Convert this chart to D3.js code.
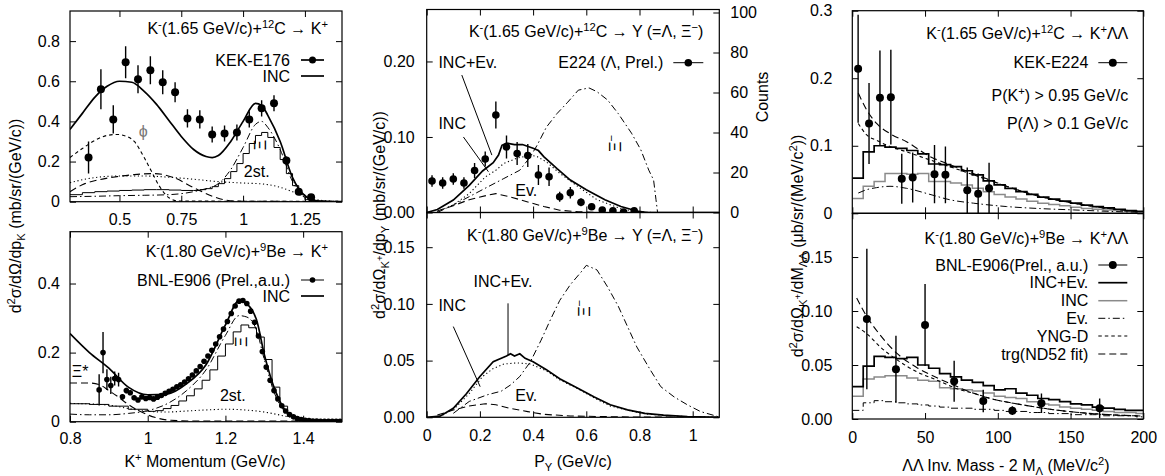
<!DOCTYPE html>
<html>
<head>
<meta charset="utf-8">
<script src="https://cdn.jsdelivr.net/npm/d3@7"></script>
<style>
  body { margin: 0; background: #fff; }
  text { font-family: "Liberation Sans", Arial, Helvetica, sans-serif; fill: #000; }
</style>
</head>
<body>
<div class="canvas"></div>
<script>
// ---------- data ----------

// top-left: K-(1.65)+12C -> K+ , KEK-E176  [p, value, err]
const e176 = [[0.375,0.22,0.08],[0.425,0.56,0.1],[0.475,0.41,0.07],[0.525,0.695,0.08],[0.575,0.61,0.07],
  [0.625,0.655,0.07],[0.675,0.595,0.06],[0.725,0.545,0.05],[0.775,0.415,0.045],[0.825,0.41,0.045],
  [0.875,0.335,0.04],[0.925,0.34,0.04],[0.975,0.345,0.04],[1.025,0.41,0.04],[1.075,0.465,0.04],
  [1.125,0.49,0.04],[1.175,0.205,0.02],[1.225,0.05,0.012],[1.275,0.022,0.01]];
const tlINC = [[0.30,0.36],[0.35,0.44],[0.40,0.52],[0.45,0.575],[0.50,0.60],[0.55,0.595],[0.60,0.55],[0.65,0.485],
  [0.70,0.405],[0.75,0.325],[0.80,0.26],[0.85,0.225],[0.875,0.22],[0.90,0.23],[0.95,0.30],[1.00,0.40],[1.05,0.49],
  [1.075,0.48],[1.10,0.43],[1.15,0.30],[1.20,0.12],[1.25,0.03],[1.30,0.004],[1.40,0]];
const tlPhi = [[0.30,0.22],[0.35,0.265],[0.40,0.305],[0.45,0.33],[0.49,0.335],[0.53,0.325],[0.56,0.30],[0.60,0.22],
  [0.63,0.15],[0.66,0.08],[0.70,0.02],[0.74,0.003],[1.40,0.002]];
const tlXiStar = [[0.30,0.05],[0.36,0.09],[0.42,0.11],[0.49,0.125],[0.56,0.135],[0.64,0.14],[0.72,0.12],[0.80,0.07],
  [0.88,0.025],[0.93,0.008],[1.0,0.002],[1.4,0.001]];
const tl2st = [[0.30,0.095],[0.40,0.12],[0.50,0.128],[0.60,0.128],[0.70,0.122],[0.80,0.112],[0.90,0.10],[1.00,0.093],
  [1.08,0.088],[1.14,0.075],[1.20,0.05],[1.26,0.02],[1.32,0.006],[1.40,0.001]];
const tlXiAll = [[0.30,0.025],[0.40,0.027],[0.50,0.03],[0.60,0.032],[0.70,0.035],[0.75,0.04],[0.80,0.05],[0.85,0.065],
  [0.90,0.09],[0.95,0.16],[1.00,0.27],[1.05,0.385],[1.075,0.40],[1.10,0.37],[1.15,0.26],[1.20,0.10],[1.25,0.02],[1.30,0.002],[1.40,0]];
const tlXiHist = [[0.30,0.035],[0.35,0.045],[0.40,0.05],[0.45,0.053],[0.50,0.056],[0.55,0.058],[0.60,0.06],[0.65,0.06],
  [0.70,0.058],[0.75,0.056],[0.80,0.056],[0.825,0.06],[0.85,0.065],[0.875,0.075],[0.90,0.09],[0.925,0.115],[0.95,0.15],
  [0.975,0.19],[1.00,0.24],[1.025,0.29],[1.05,0.33],[1.075,0.345],[1.10,0.32],[1.125,0.27],[1.15,0.21],[1.175,0.14],
  [1.20,0.08],[1.225,0.035],[1.25,0.01],[1.275,0.002],[1.30,0]];

// bottom-left: K-(1.80)+9Be -> K+ , BNL-E906  [p, value, err]
const e906k = [[0.875,0.092,0.045],[0.885,0.20,0.06],[0.895,0.122,0.03],[0.905,0.105,0.025],[0.915,0.125,0.02],
  [0.925,0.122,0.02],[0.935,0.072,0.008],[0.945,0.09,0.008],[0.955,0.084,0.007],[0.965,0.069,0.006],[0.975,0.063,0.006],
  [0.985,0.072,0.006],[0.995,0.067,0.005],[1.005,0.07,0.005],[1.015,0.066,0.005],[1.025,0.071,0.005],[1.035,0.076,0.005],
  [1.045,0.082,0.005],[1.055,0.088,0.005],[1.065,0.094,0.005],[1.075,0.101,0.005],[1.085,0.107,0.005],[1.095,0.115,0.005],
  [1.105,0.124,0.005],[1.115,0.135,0.005],[1.125,0.147,0.005],[1.135,0.16,0.005],[1.145,0.175,0.005],[1.155,0.19,0.005],
  [1.165,0.207,0.005],[1.175,0.225,0.005],[1.185,0.246,0.005],[1.195,0.268,0.005],[1.205,0.29,0.005],[1.215,0.313,0.005],
  [1.225,0.335,0.005],[1.235,0.349,0.005],[1.245,0.351,0.005],[1.255,0.342,0.005],[1.265,0.32,0.005],[1.275,0.288,0.005],
  [1.285,0.248,0.005],[1.295,0.203,0.005],[1.305,0.158,0.005],[1.315,0.12,0.005],[1.325,0.09,0.004],[1.335,0.066,0.004],
  [1.345,0.046,0.003],[1.355,0.031,0.003],[1.365,0.021,0.002],[1.375,0.014,0.002],[1.385,0.009,0.002],[1.395,0.006,0.001],
  [1.405,0.004,0.001],[1.415,0.003,0.001],[1.425,0.002,0.001],[1.435,0.002,0.001],[1.445,0.001,0.001],[1.455,0.001,0.001],
  [1.465,0.001,0.001],[1.475,0.001,0.001],[1.485,0.001,0.001],[1.495,0.001,0.001]];
const blINC = [[0.80,0.255],[0.85,0.20],[0.90,0.155],[0.95,0.10],[1.00,0.078],[1.05,0.08],[1.10,0.11],[1.15,0.165],
  [1.20,0.28],[1.235,0.35],[1.25,0.345],[1.28,0.295],[1.30,0.195],[1.33,0.085],[1.36,0.025],[1.40,0.004],[1.45,0],[1.50,0]];
const blXiStar = [[0.80,0.112],[0.85,0.112],[0.88,0.105],[0.90,0.09],[0.92,0.075],[0.95,0.05],[0.98,0.03],[1.02,0.012],
  [1.06,0.004],[1.12,0.002],[1.50,0.002]];
const blXiAll = [[0.80,0.022],[0.85,0.02],[0.90,0.02],[0.95,0.024],[1.00,0.032],[1.05,0.052],[1.10,0.09],[1.15,0.15],
  [1.20,0.25],[1.235,0.307],[1.255,0.303],[1.28,0.265],[1.30,0.18],[1.33,0.072],[1.36,0.022],[1.40,0.003],[1.50,0]];
const bl2st = [[0.80,0.053],[0.90,0.048],[0.95,0.038],[1.00,0.03],[1.05,0.028],[1.10,0.031],[1.15,0.034],[1.20,0.036],
  [1.25,0.034],[1.30,0.028],[1.35,0.017],[1.40,0.006],[1.45,0.001],[1.50,0]];
const blXiHist = [[0.80,0.052],[0.85,0.05],[0.90,0.045],[0.95,0.036],[1.00,0.03],[1.02,0.032],[1.04,0.038],[1.06,0.047],
  [1.08,0.06],[1.10,0.075],[1.12,0.095],[1.14,0.12],[1.16,0.15],[1.18,0.19],[1.20,0.225],[1.22,0.26],[1.24,0.28],
  [1.26,0.272],[1.28,0.245],[1.30,0.18],[1.32,0.10],[1.34,0.045],[1.36,0.015],[1.38,0.004],[1.40,0.001],[1.50,0]];

// top-middle: hyperon momentum, E224 counts (right axis) [p, counts, err]
const e224y = [[0.02,15.75,2.9],[0.06,14.75,2.9],[0.10,16.75,2.9],[0.14,14.75,2.9],[0.18,21,3.7],[0.22,26.75,3.7],
  [0.26,48.75,6.7],[0.30,32.75,5.8],[0.34,29.5,5.8],[0.38,28.5,5.8],[0.42,18.75,5],[0.46,17.9,4.6],[0.50,7.9,2.5],
  [0.54,9.9,2.9],[0.58,5.1,2],[0.62,2.9,1.5],[0.66,1.25,1],[0.70,0.9,1],[0.74,0.25,0.8],[0.78,0.9,1]];
const tmSum = [[0,0],[0.04,0.004],[0.10,0.0165],[0.16,0.036],[0.21,0.055],[0.25,0.066],[0.27,0.076],[0.283,0.089],
  [0.30,0.092],[0.33,0.09],[0.36,0.09],[0.40,0.085],[0.42,0.082],[0.44,0.074],[0.49,0.058],[0.54,0.043],[0.60,0.03],
  [0.67,0.017],[0.73,0.008],[0.79,0.002],[0.83,0],[1.1,0]];
const tmINC = [[0.04,0.001],[0.10,0.01],[0.16,0.025],[0.22,0.047],[0.26,0.056],[0.29,0.065],[0.34,0.072],[0.39,0.076],
  [0.415,0.074],[0.45,0.067],[0.50,0.052],[0.57,0.034],[0.64,0.017],[0.73,0.005],[0.79,0.001],[0.85,0]];
const tmXi = [[0.04,0],[0.10,0.01],[0.16,0.021],[0.23,0.034],[0.29,0.045],[0.35,0.056],[0.39,0.074],[0.415,0.089],
  [0.45,0.113],[0.49,0.131],[0.53,0.146],[0.57,0.162],[0.61,0.165],[0.64,0.16],[0.68,0.149],[0.72,0.131],[0.77,0.105],
  [0.805,0.083],[0.835,0.056],[0.853,0.043],[0.862,0.017],[0.868,0]];
const tmEv = [[0.04,0.002],[0.10,0.009],[0.16,0.017],[0.23,0.023],[0.26,0.025],[0.31,0.021],[0.38,0.014],[0.44,0.008],
  [0.50,0.003],[0.57,0.001],[0.65,0],[1.1,0]];

// bottom-middle
const bmSum = [[0,0],[0.05,0.001],[0.10,0.008],[0.15,0.021],[0.20,0.036],[0.25,0.049],[0.30,0.054],[0.315,0.056],
  [0.33,0.054],[0.35,0.056],[0.37,0.052],[0.40,0.049],[0.45,0.042],[0.50,0.034],[0.57,0.0255],[0.63,0.018],[0.69,0.011],
  [0.755,0.0065],[0.82,0.0035],[0.89,0.002],[0.98,0.0006],[1.1,0]];
const bmINC = [[0.06,0.002],[0.11,0.009],[0.16,0.021],[0.21,0.036],[0.25,0.043],[0.29,0.047],[0.34,0.048],[0.39,0.047],
  [0.45,0.041],[0.50,0.033],[0.57,0.025],[0.63,0.017],[0.69,0.01],[0.76,0.006],[0.82,0.003],[0.90,0.0015],[1.0,0.0004],[1.1,0]];
const bmXi = [[0.10,0.0035],[0.16,0.014],[0.23,0.02],[0.28,0.023],[0.315,0.0285],[0.35,0.036],[0.39,0.049],[0.43,0.068],
  [0.465,0.086],[0.50,0.103],[0.54,0.117],[0.58,0.128],[0.60,0.134],[0.64,0.13],[0.68,0.115],[0.72,0.098],[0.755,0.08],
  [0.79,0.062],[0.84,0.042],[0.88,0.027],[0.93,0.018],[0.98,0.011],[1.03,0.005],[1.09,0.001],[1.1,0]];
const bmEv = [[0.04,0.002],[0.10,0.0065],[0.16,0.010],[0.22,0.012],[0.26,0.011],[0.31,0.008],[0.38,0.005],[0.44,0.0026],
  [0.54,0.0012],[0.67,0.0006],[0.80,0.0002],[1.1,0]];

// right column: LL invariant mass, 7.5 MeV bins (left edges)
const llBins = [0,7.5,15,22.5,30,37.5,45,52.5,60,67.5,75,82.5,90,97.5,105,112.5,120,127.5,135,142.5,150,157.5,165,172.5,180,187.5,195];
const e224ll = [[4,0.214,0.08],[11.5,0.133,0.06],[19,0.171,0.07],[26.5,0.172,0.07],[34,0.051,0.037],[41.5,0.053,0.037],
  [56.5,0.058,0.043],[64,0.057,0.042],[79,0.034,0.034],[86.5,0.029,0.03],[94,0.037,0.038]];
const trSum = [0.052,0.091,0.10,0.098,0.096,0.093,0.088,0.073,0.072,0.069,0.063,0.057,0.048,0.042,0.037,0.032,0.028,
  0.024,0.021,0.018,0.015,0.012,0.010,0.008,0.006,0.004,0.003];
const trINC = [0.022,0.04,0.047,0.059,0.059,0.058,0.059,0.047,0.047,0.045,0.042,0.037,0.032,0.028,0.024,0.021,0.018,
  0.015,0.013,0.011,0.009,0.007,0.006,0.005,0.004,0.003,0.002];
const trEv = [[4.1,0.03],[9.9,0.035],[16.7,0.038],[25.9,0.04],[37.3,0.037],[53.4,0.028],[67.1,0.02],[83.2,0.015],
  [106,0.01],[129,0.007],[152,0.005],[175,0.003],[198,0.0015]];
const trYNG = [[4.1,0.133],[9.9,0.116],[16.7,0.108],[25.9,0.099],[37.3,0.091],[53.4,0.079],[67.1,0.069],[83.2,0.057],
  [106,0.04],[129,0.025],[152,0.015],[175,0.0074],[198,0.0025]];
const trTrg = [[4.1,0.178],[9.9,0.153],[16.7,0.133],[25.9,0.118],[37.3,0.106],[53.4,0.084],[67.1,0.072],[83.2,0.059],
  [106,0.04],[129,0.025],[152,0.015],[175,0.0074],[198,0.0025]];

const e906ll = [[10,0.0926,0.065],[30,0.046,0.031],[50,0.087,0.038],[70,0.035,0.019],[90,0.0167,0.0105],
  [110,0.0077,0.004],[130,0.0145,0.009],[170,0.0099,0.009]];
const brSum = [0.03,0.049,0.058,0.057,0.056,0.057,0.05,0.047,0.042,0.039,0.036,0.034,0.031,0.027,0.028,0.024,0.022,
  0.019,0.018,0.016,0.014,0.013,0.011,0.010,0.009,0.008,0.008];
const brINC = [0.021,0.037,0.039,0.04,0.04,0.038,0.036,0.035,0.029,0.028,0.027,0.026,0.024,0.021,0.020,0.019,0.016,
  0.014,0.013,0.011,0.010,0.009,0.008,0.007,0.006,0.006,0.005];
const brEv = [0.008,0.015,0.017,0.016,0.015,0.014,0.013,0.012,0.011,0.010,0.010,0.009,0.009,0.008,0.007,0.007,0.006,
  0.006,0.005,0.005,0.004,0.004,0.004,0.003,0.003,0.003,0.002];
const brYNG = [[3,0.0855],[9.9,0.079],[19,0.067],[30.5,0.055],[44,0.044],[60,0.035],[72,0.028],[83,0.024],[95,0.019],
  [117.5,0.013],[140,0.0083],[163,0.0052],[198,0.0028]];
const brTrg = [[3,0.112],[9.9,0.095],[19,0.078],[30.5,0.061],[44,0.048],[60,0.037],[72,0.03],[83,0.024],[95,0.019],
  [117.5,0.013],[140,0.0083],[163,0.0052],[198,0.0028]];

// ---------- drawing ----------
const W = 1165, H = 476, FS = 16;
const svg = d3.select('.canvas').append('svg')
  .attr('width', W).attr('height', H).style('display', 'block');
svg.append('rect').attr('width', W).attr('height', H).attr('fill', '#fff');

// tiny markup: ^{..} superscript, _{..} subscript, `{..} small raised after a subscript
function rich(t, str, size) {
  const parts = str.split(/(\^\{[^}]*\}|_\{[^}]*\}|`\{[^}]*\})/).filter(s => s !== '');
  let shift = 0;
  parts.forEach(p => {
    let txt = p, off = 0, fs = size;
    if (p[0] === '^' && p[1] === '{') { txt = p.slice(2, -1); off = -0.38 * size; fs = 0.7 * size; }
    else if (p[0] === '_' && p[1] === '{') { txt = p.slice(2, -1); off = 0.25 * size; fs = 0.7 * size; }
    else if (p[0] === '`' && p[1] === '{') { txt = p.slice(2, -1); off = -0.12 * size; fs = 0.6 * size; }
    const ts = t.append('tspan').attr('font-size', fs).text(txt);
    if (off - shift) ts.attr('dy', off - shift);
    shift = off;
  });
  return t;
}

function label(x, y, str, anchor, size) {
  size = size || FS;
  const t = svg.append('text').attr('x', x).attr('y', y + 0.35 * size)
    .attr('text-anchor', anchor || 'start').attr('font-size', size);
  return rich(t, str, size);
}

function vlabel(cx, cy, str, size) {
  size = size || FS;
  const t = svg.append('text').attr('transform', `translate(${cx},${cy}) rotate(-90)`)
    .attr('y', 0.35 * size).attr('text-anchor', 'middle').attr('font-size', size);
  return rich(t, str, size);
}

function panel(p) {
  const x = d3.scaleLinear().domain(p.xd).range([p.l, p.r]);
  const y = d3.scaleLinear().domain(p.yd).range([p.b, p.t]);
  const id = 'clip-' + p.name;
  svg.append('clipPath').attr('id', id).append('rect')
    .attr('x', p.l).attr('y', p.t).attr('width', p.r - p.l).attr('height', p.b - p.t);
  const plot = svg.append('g').attr('clip-path', `url(#${id})`);
  const axes = svg.append('g');

  const fix = g => {
    g.select('.domain').remove();
    g.attr('font-size', FS).attr('font-family', null);
  };
  axes.append('g').attr('transform', `translate(${p.l},0)`)
    .call(d3.axisLeft(y).tickValues(p.yt).tickFormat(p.yf).tickSizeInner(-6).tickSizeOuter(0).tickPadding(p.yp))
    .call(fix);
  if (!p.noRight) {
    axes.append('g').attr('transform', `translate(${p.r},0)`)
      .call(d3.axisRight(y).tickValues(p.yt).tickFormat('').tickSizeInner(-6).tickSizeOuter(0))
      .call(fix);
  }
  axes.append('g').attr('transform', `translate(0,${p.b})`)
    .call(d3.axisBottom(x).tickValues(p.xt).tickFormat(p.xf || '').tickSizeInner(-6).tickSizeOuter(0).tickPadding(p.xp || 10))
    .call(fix);
  axes.append('g').attr('transform', `translate(0,${p.t})`)
    .call(d3.axisTop(x).tickValues(p.xt).tickFormat('').tickSizeInner(-6).tickSizeOuter(0))
    .call(fix);

  const frame = () => svg.append('rect').attr('x', p.l).attr('y', p.t)
    .attr('width', p.r - p.l).attr('height', p.b - p.t)
    .attr('fill', 'none').attr('stroke', '#000').attr('stroke-width', 1.2);
  return { x, y, plot, frame, p };
}

const STY = {
  solid: { w: 1.7, dash: null, c: '#000' },
  thin: { w: 1.0, dash: null, c: '#000' },
  gray: { w: 1.5, dash: null, c: '#8a8a8a' },
  dot: { w: 1.1, dash: '1.2,2.6', c: '#000' },
  sdash: { w: 1.1, dash: '3.5,3', c: '#000' },
  ldash: { w: 1.1, dash: '7,4', c: '#000' },
  dashdot: { w: 1.0, dash: '7,3,1.5,3', c: '#000' }
};

function curve(P, data, s, cv, ys) {
  const yy = ys || P.y;
  P.plot.append('path').datum(data)
    .attr('d', d3.line().x(d => P.x(d[0])).y(d => yy(d[1])).curve(cv || d3.curveLinear))
    .attr('fill', 'none').attr('stroke', s.c).attr('stroke-width', s.w)
    .attr('stroke-dasharray', s.dash);
}

function stepHist(P, pairs, s, endX) {
  const pts = pairs.slice();
  if (endX !== undefined) pts.push([endX, pairs[pairs.length - 1][1]]);
  curve(P, pts, s, d3.curveStepAfter);
}

function binHist(P, edges, vals, s) {
  const pairs = edges.map((e, i) => [e, vals[i]]);
  stepHist(P, pairs, s, edges[edges.length - 1] + (edges[1] - edges[0]));
}

function points(P, data, r, ys) {
  const yy = ys || P.y;
  const g = P.plot.append('g');
  g.selectAll('line').data(data).join('line')
    .attr('x1', d => P.x(d[0])).attr('x2', d => P.x(d[0]))
    .attr('y1', d => yy(d[1] - d[2])).attr('y2', d => yy(d[1] + d[2]))
    .attr('stroke', '#000').attr('stroke-width', 1.4);
  g.selectAll('circle').data(data).join('circle')
    .attr('cx', d => P.x(d[0])).attr('cy', d => yy(d[1])).attr('r', r).attr('fill', '#000');
}

function sample(x1, x2, y, s, dotR) {
  svg.append('line').attr('x1', x1).attr('x2', x2).attr('y1', y).attr('y2', y)
    .attr('stroke', s.c).attr('stroke-width', s.w).attr('stroke-dasharray', s.dash);
  if (dotR) svg.append('circle').attr('cx', (x1 + x2) / 2).attr('cy', y).attr('r', dotR).attr('fill', '#000');
}

function noteAt(P, vx, vy, str, rotate, color) {
  const px = P.x(vx), py = P.y(vy);
  if (rotate) {
    vlabel(px, py, str);
  } else {
    const t = label(px, py, str, 'middle');
    if (color) t.style('fill', color);
  }
}

function pointer(P, a, b) {
  svg.append('line').attr('x1', P.x(a[0])).attr('y1', P.y(a[1])).attr('x2', P.x(b[0])).attr('y2', P.y(b[1]))
    .attr('stroke', '#000').attr('stroke-width', 1);
}

const fmt1 = d => d === 0 ? '0' : d3.format('.1f')(d);
const fmt2 = d3.format('.2f');
const fmtS = d => String(d);

// ----- top left -----
const TL = panel({ name: 'tl', l: 70, r: 342, t: 11, b: 201.7, xd: [0.3, 1.4], yd: [0, 0.95],
  yt: [0, 0.2, 0.4, 0.6, 0.8], yf: fmt1, yp: 10, xt: [0.5, 0.75, 1, 1.25], xf: fmtS, xp: 12 });
stepHist(TL, tlXiHist, STY.thin);
curve(TL, tlXiAll, STY.dashdot, d3.curveMonotoneX);
curve(TL, tl2st, STY.dot, d3.curveMonotoneX);
curve(TL, tlXiStar, STY.ldash, d3.curveMonotoneX);
curve(TL, tlPhi, STY.sdash, d3.curveMonotoneX);
curve(TL, tlINC, STY.solid, d3.curveMonotoneX);
points(TL, e176, 4);
TL.frame();
noteAt(TL, 0.596, 0.349, 'ϕ', false, '#777');
noteAt(TL, 1.068, 0.2825, 'Ξ', true);
noteAt(TL, 1.055, 0.1495, '2st.');
label(328, 28.3, 'K^{-}(1.65 GeV/c)+^{12}C → K^{+}', 'end');
label(290, 60, 'KEK-E176', 'end');
sample(301, 324, 60, STY.solid, 3.5);
label(290, 76, 'INC', 'end');
sample(301, 324, 76, STY.solid);

// ----- bottom left -----
const BL = panel({ name: 'bl', l: 70, r: 342, t: 231.7, b: 421.7, xd: [0.8, 1.5], yd: [0, 0.55],
  yt: [0, 0.2, 0.4], yf: fmt1, yp: 10, xt: [0.8, 1, 1.2, 1.4], xf: fmtS, xp: 11 });
stepHist(BL, blXiHist, STY.thin);
curve(BL, bl2st, STY.dot, d3.curveMonotoneX);
curve(BL, blXiAll, STY.dashdot, d3.curveMonotoneX);
curve(BL, blXiStar, STY.ldash, d3.curveMonotoneX);
curve(BL, blINC, STY.solid, d3.curveMonotoneX);
points(BL, e906k, 2.8);
BL.frame();
noteAt(BL, 0.826, 0.1447, 'Ξ*');
noteAt(BL, 1.241, 0.2315, 'Ξ', true);
noteAt(BL, 1.219, 0.0773, '2st.');
label(328, 251.7, 'K^{-}(1.80 GeV/c)+^{9}Be → K^{+}', 'end');
label(290, 280, 'BNL-E906 (Prel.,a.u.)', 'end');
sample(301, 324, 280, STY.thin, 2.8);
label(290, 296, 'INC', 'end');
sample(301, 324, 296, STY.solid);

// ----- top middle -----
const TM = panel({ name: 'tm', l: 426.7, r: 719.3, t: 9.5, b: 212.5, xd: [0, 1.1], yd: [0, 0.2688],
  yt: [0, 0.1, 0.2], yf: fmt2, yp: 12, xt: [0, 0.2, 0.4, 0.6, 0.8, 1.0], noRight: true });
const yCounts = d3.scaleLinear().domain([0, 101.5]).range([212.5, 9.5]);
svg.append('g').attr('transform', 'translate(719.3,0)')
  .call(d3.axisRight(yCounts).tickValues([0, 20, 40, 60, 80, 100]).tickSizeInner(-6).tickSizeOuter(0).tickPadding(11))
  .call(g => { g.select('.domain').remove(); g.attr('font-size', FS).attr('font-family', null); });
curve(TM, tmEv, STY.ldash);
curve(TM, tmXi, STY.dashdot);
curve(TM, tmINC, STY.dot);
curve(TM, tmSum, STY.solid);
points(TM, e224y, 3.8, yCounts);
TM.frame();
label(703.3, 31.7, 'K^{-}(1.65 GeV/c)+^{12}C → Y (=Λ, Ξ^{−})', 'end');
label(663.3, 62.7, 'E224 (Λ, Prel.)', 'end');
sample(673.3, 703.3, 62.7, STY.thin, 3.8);
label(TM.x(0.044), TM.y(0.199), 'INC+Ev.');
pointer(TM, [0.132, 0.182], [0.245, 0.076]);
label(TM.x(0.044), TM.y(0.1175), 'INC');
pointer(TM, [0.138, 0.100], [0.232, 0.054]);
label(TM.x(0.333), TM.y(0.0297), 'Ev.');
noteAt(TM, 0.711, 0.0914, 'Ξ^{−}', true);

// ----- bottom middle -----
const BM = panel({ name: 'bm', l: 426.7, r: 719.3, t: 212.5, b: 417.3, xd: [0, 1.1], yd: [0, 0.1806],
  yt: [0, 0.05, 0.1, 0.15], yf: fmt2, yp: 12, xt: [0, 0.2, 0.4, 0.6, 0.8, 1.0], xf: fmtS, xp: 12 });
curve(BM, bmEv, STY.ldash);
curve(BM, bmXi, STY.dashdot);
curve(BM, bmINC, STY.dot);
curve(BM, bmSum, STY.solid);
BM.frame();
label(703.3, 235, 'K^{-}(1.80 GeV/c)+^{9}Be → Y (=Λ, Ξ^{−})', 'end');
label(BM.x(0.176), BM.y(0.1196), 'INC+Ev.');
pointer(BM, [0.3057, 0.1005], [0.3057, 0.055]);
label(BM.x(0.044), BM.y(0.099), 'INC');
pointer(BM, [0.10, 0.08], [0.201, 0.027]);
label(BM.x(0.333), BM.y(0.0197), 'Ev.');
noteAt(BM, 0.591, 0.0961, 'Ξ^{−}', true);

// ----- top right -----
const TR = panel({ name: 'tr', l: 852.3, r: 1143.3, t: 10.7, b: 213.3, xd: [0, 200], yd: [0, 0.3],
  yt: [0, 0.1, 0.2, 0.3], yf: fmt1, yp: 20, xt: [0, 50, 100, 150, 200] });
binHist(TR, llBins, trINC, STY.gray);
curve(TR, trEv, STY.dashdot, d3.curveMonotoneX);
curve(TR, trYNG, STY.sdash, d3.curveMonotoneX);
curve(TR, trTrg, STY.ldash, d3.curveMonotoneX);
binHist(TR, llBins, trSum, STY.solid);
points(TR, e224ll, 4);
TR.frame();
label(1128.3, 33.3, 'K^{-}(1.65 GeV/c)+^{12}C → K^{+}ΛΛ', 'end');
label(1088.3, 62.7, 'KEK-E224', 'end');
sample(1098.3, 1127.3, 62.7, STY.thin, 4);
label(1128.3, 95, 'P(K^{+}) > 0.95 GeV/c', 'end');
label(1128.3, 123.3, 'P(Λ) > 0.1 GeV/c', 'end');

// ----- bottom right -----
const BR = panel({ name: 'br', l: 852.3, r: 1143.3, t: 213.3, b: 419, xd: [0, 200], yd: [0, 0.1905],
  yt: [0, 0.05, 0.1, 0.15], yf: fmt2, yp: 20, xt: [0, 50, 100, 150, 200], xf: fmtS, xp: 13 });
binHist(BR, llBins, brINC, STY.gray);
binHist(BR, llBins, brEv, STY.dashdot);
curve(BR, brYNG, STY.sdash, d3.curveMonotoneX);
curve(BR, brTrg, STY.ldash, d3.curveMonotoneX);
binHist(BR, llBins, brSum, STY.solid);
points(BR, e906ll, 4);
BR.frame();
label(1128.3, 238.3, 'K^{-}(1.80 GeV/c)+^{9}Be → K^{+}ΛΛ', 'end');
const brLegend = [
  ['BNL-E906(Prel., a.u.)', STY.thin, 4], ['INC+Ev.', STY.solid], ['INC', STY.gray],
  ['Ev.', STY.dashdot], ['YNG-D', STY.sdash], ['trg(ND52 fit)', STY.ldash]];
const brRows = [265, 282.7, 300.7, 318.3, 336, 354];
brLegend.forEach((e, i) => {
  label(1088.3, brRows[i], e[0], 'end');
  sample(1098.3, 1127.3, brRows[i], e[1], e[2]);
});

// ----- axis titles -----
vlabel(15, 216, 'd^{2}σ/dΩ/dp_{K} (mb/sr/(GeV/c))');
vlabel(379, 215, 'd^{2}σ/dΩ_{K}`{+}/dp_{Y} (mb/sr/(GeV/c))');
vlabel(762, 97, 'Counts');
vlabel(797, 246, 'd^{2}σ/dΩ_{K}`{+}/dM_{ΛΛ} (μb/sr/(MeV/c^{2}))');
label(205, 461, 'K^{+} Momentum (GeV/c)', 'middle');
label(573, 461, 'P_{Y} (GeV/c)', 'middle');
label(1006, 465, 'ΛΛ Inv. Mass - 2 M_{Λ} (MeV/c^{2})', 'middle');
</script>
</body>
</html>
